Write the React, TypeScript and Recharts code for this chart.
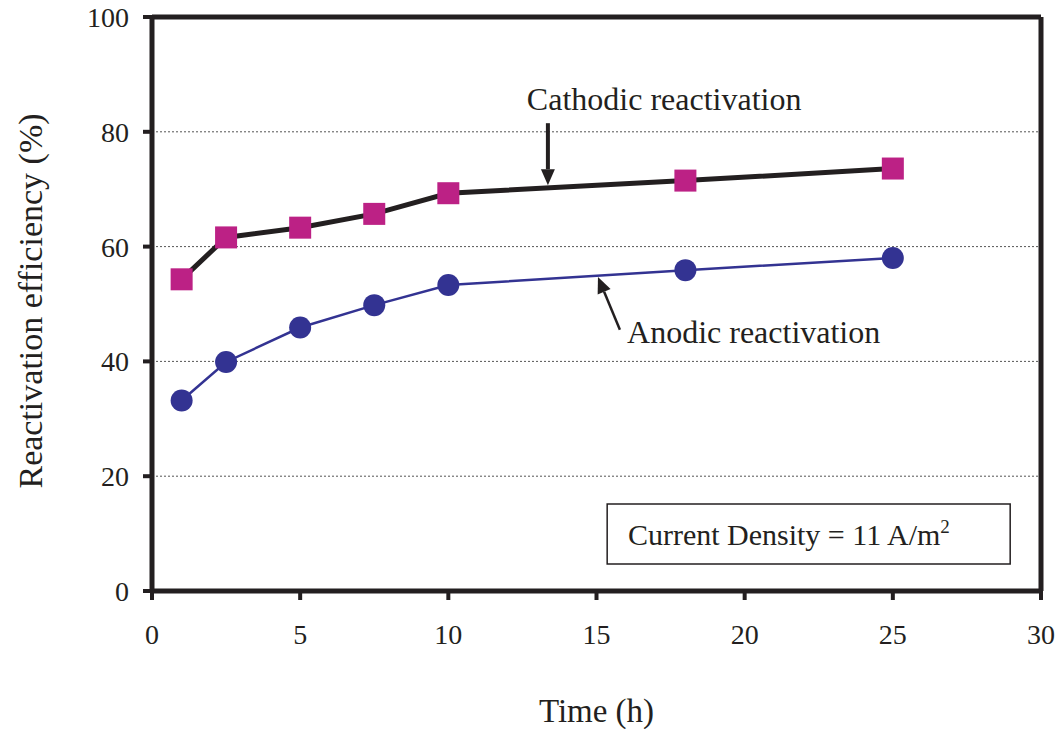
import {
  LineChart,
  Line,
  XAxis,
  YAxis,
  CartesianGrid,
  ReferenceLine,
  ReferenceArea,
  ReferenceDot,
  Label,
} from 'recharts'

const FONT = '"Liberation Serif", "Times New Roman", serif'
const INK = '#231f20'

// time (h) and reactivation efficiency (%)
const hours = [1, 2.5, 5, 7.5, 10, 18, 25]
const cathodic = [54.3, 61.6, 63.3, 65.7, 69.3, 71.5, 73.6]
const anodic = [33.2, 39.9, 45.9, 49.8, 53.3, 55.9, 58.0]

const xTicks = [0, 5, 10, 15, 20, 25, 30]
const yTicks = [0, 20, 40, 60, 80, 100]

const data = hours.map((h, i) => ({ h, cathodic: cathodic[i], anodic: anodic[i] }))

const Square = (props: any) => {
  const { cx, cy } = props
  if (cx == null || cy == null) return null
  return <rect x={cx - 11} y={cy - 11} width={22} height={22} fill="#bc2185" />
}

const Circle = (props: any) => {
  const { cx, cy } = props
  if (cx == null || cy == null) return null
  return <circle cx={cx} cy={cy} r={11} fill="#333392" />
}

// straight arrow with a filled head at the second end
const arrow = (width: number) => (props: any) => {
  const { x1, y1, x2, y2 } = props
  const dx = x2 - x1
  const dy = y2 - y1
  const len = Math.sqrt(dx * dx + dy * dy) || 1
  const ux = dx / len
  const uy = dy / len
  const head = 16
  const half = 7
  const bx = x2 - ux * head
  const by = y2 - uy * head
  return (
    <g>
      <line x1={x1} y1={y1} x2={bx} y2={by} stroke={INK} strokeWidth={width} />
      <polygon
        points={`${x2},${y2} ${bx - uy * half},${by + ux * half} ${bx + uy * half},${by - ux * half}`}
        fill={INK}
      />
    </g>
  )
}

const note = (text: React.ReactNode, size: number) => (props: any) => (
  <text
    x={props.cx}
    y={props.cy}
    style={{ fontFamily: FONT, fontSize: size }}
    fill={INK}
    textAnchor="start"
  >
    {text}
  </text>
)

const tickStyle = { fill: INK, fontSize: 28, style: { fontFamily: FONT } }

export default function App() {
  return (
    <div style={{ position: 'absolute', left: 0, top: 0, background: '#fff', fontFamily: FONT }}>
      <LineChart
        width={1062}
        height={729}
        data={data}
        margin={{ top: 17, right: 21, bottom: 0, left: 0 }}
        style={{ fontFamily: FONT }}
      >
        <CartesianGrid vertical={false} stroke="#555" strokeDasharray="2 2" strokeWidth={1} />
        <XAxis
          dataKey="h"
          type="number"
          domain={[0, 30]}
          ticks={xTicks}
          height={138}
          axisLine={{ stroke: INK, strokeWidth: 5 }}
          tickLine={{ stroke: INK, strokeWidth: 4 }}
          tickSize={9}
          tickMargin={24}
          tick={tickStyle}
        >
          <Label
            content={({ viewBox }: any) => (
              <text
                x={viewBox.x + viewBox.width / 2}
                y={viewBox.y + 131}
                textAnchor="middle"
                style={{ fontFamily: FONT, fontSize: 33 }}
                fill={INK}
              >
                Time (h)
              </text>
            )}
          />
        </XAxis>
        <YAxis
          type="number"
          domain={[0, 100]}
          ticks={yTicks}
          width={152}
          axisLine={{ stroke: INK, strokeWidth: 5 }}
          tickLine={{ stroke: INK, strokeWidth: 4 }}
          tickSize={9}
          tickMargin={14}
          tick={tickStyle}
        >
          <Label
            content={({ viewBox }: any) => {
              const x = 42
              const y = viewBox.y + viewBox.height / 2 - 3
              return (
                <text
                  x={x}
                  y={y}
                  transform={`rotate(-90, ${x}, ${y})`}
                  textAnchor="middle"
                  style={{ fontFamily: FONT, fontSize: 34 }}
                  fill={INK}
                >
                  Reactivation efficiency (%)
                </text>
              )
            }}
          />
        </YAxis>

        {/* closing frame on top and right */}
        <ReferenceLine y={100} stroke={INK} strokeWidth={5} />
        <ReferenceLine x={30} stroke={INK} strokeWidth={5} />

        <ReferenceArea
          x1={15.36}
          x2={28.96}
          y1={4.7}
          y2={15.16}
          fill="#fff"
          fillOpacity={1}
          stroke={INK}
          strokeWidth={1.5}
        />
        <ReferenceDot
          x={16.06}
          y={8.0}
          r={0}
          shape={note(
            <>
              Current Density = 11 A/m<tspan dy={-12} style={{ fontSize: 19 }}>2</tspan>
            </>,
            30
          )}
        />

        <Line
          dataKey="anodic"
          stroke="#333392"
          strokeWidth={2.5}
          dot={<Circle />}
          activeDot={false}
          isAnimationActive={false}
        />
        <Line
          dataKey="cathodic"
          stroke={INK}
          strokeWidth={5}
          dot={<Square />}
          activeDot={false}
          isAnimationActive={false}
        />

        <ReferenceLine
          segment={[
            { x: 13.36, y: 81.5 },
            { x: 13.36, y: 70.7 },
          ]}
          shape={arrow(4)}
        />
        <ReferenceLine
          segment={[
            { x: 15.79, y: 45.5 },
            { x: 15.05, y: 54.7 },
          ]}
          shape={arrow(2.5)}
        />
        <ReferenceDot x={12.65} y={83.8} r={0} shape={note('Cathodic reactivation', 32)} />
        <ReferenceDot x={16.03} y={43.2} r={0} shape={note('Anodic reactivation', 32)} />
      </LineChart>
    </div>
  )
}
